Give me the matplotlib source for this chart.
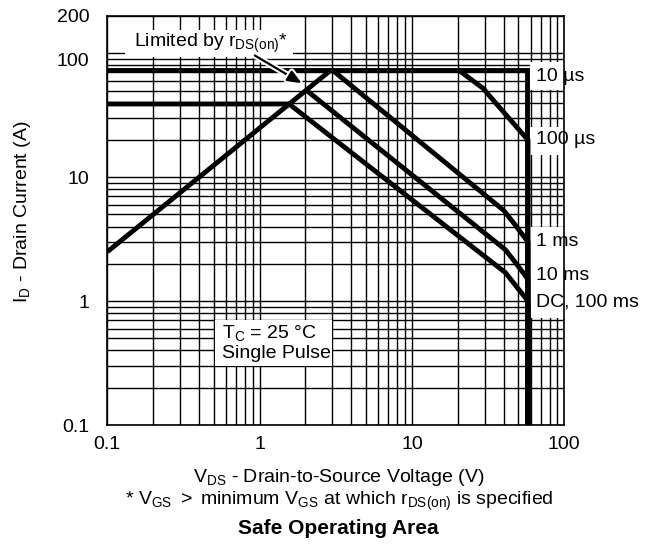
import matplotlib
matplotlib.use('Agg')
import matplotlib.pyplot as plt
import matplotlib.patheffects as pe
from matplotlib.patches import Rectangle
from matplotlib.ticker import NullFormatter, FixedLocator
from matplotlib.transforms import ScaledTranslation

plt.rcParams['font.family'] = ['Liberation Sans', 'DejaVu Sans']
plt.rcParams['mathtext.fontset'] = 'custom'
plt.rcParams['mathtext.rm'] = 'Liberation Sans'
plt.rcParams['mathtext.it'] = 'Liberation Sans:italic'
plt.rcParams['mathtext.bf'] = 'Liberation Sans:bold'

# ---------------- data ----------------
x_ticks = [0.1, 1, 10, 100]
x_tick_labels = ["0.1", "1", "10", "100"]
y_ticks = [0.1, 1, 10, 100, 200]
y_tick_labels = ["0.1", "1", "10", "100", "200"]

# r_DS(on) limit line
rds_v = [0.1, 2.97]
rds_i = [2.5, 74]
# 10 us (current limit + voltage limit)
us10_v = [0.1, 57, 57]
us10_i = [74, 74, 0.1]
# 100 us
us100_v = [20, 29.4, 32.6, 55.3, 57.8, 57.8]
us100_i = [74, 52, 44.7, 21.2, 20, 0.1]
# 1 ms
ms1_v = [2.97, 40, 47, 57.8, 57.8]
ms1_i = [74, 5.4, 4.2, 3.0, 0.1]
# 10 ms
ms10_v = [2.04, 41, 47, 57.8, 57.8]
ms10_i = [50, 2.6, 2.1, 1.5, 0.1]
# DC, 100 ms
dc_v = [0.1, 1.56, 41, 57.8, 57.8]
dc_i = [39, 39, 1.7, 1.0, 0.1]

curve_labels = ["10 µs", "100 µs", "1 ms", "10 ms", "DC, 100 ms"]
curve_label_i = [65, 20, 3.02, 1.6, 0.99]

FS = 14

# ---------------- figure ----------------
W, H = 647, 545
fig = plt.figure(figsize=(W / 100, H / 100), dpi=100)
L, R, T, B = 107.3, 564.3, 16, 425
ax = fig.add_axes([L / W, 1 - B / H, (R - L) / W, (B - T) / H])
ax.set_xscale('log')
ax.set_yscale('log')
ax.set_xlim(0.1, 100)
ax.set_ylim(0.1, 200)

ax.xaxis.set_major_locator(FixedLocator(x_ticks))
ax.set_xticklabels(x_tick_labels)
ax.yaxis.set_major_locator(FixedLocator(y_ticks))
ax.set_yticklabels(y_tick_labels)
minors = [k * 10.0 ** e for e in (-1, 0, 1) for k in range(2, 10)]
ax.xaxis.set_minor_locator(FixedLocator(minors))
ax.yaxis.set_minor_locator(FixedLocator(minors))
ax.xaxis.set_minor_formatter(NullFormatter())
ax.yaxis.set_minor_formatter(NullFormatter())
ax.grid(which='both', color='black', lw=1.0)
ax.tick_params(which='both', length=0, labelsize=FS)
ax.tick_params(axis='y', pad=13)
ax.tick_params(axis='x', pad=8)
for s in ax.spines.values():
    s.set_linewidth(1.2)
# the "100" label sits slightly lower in the original
for lab in ax.get_yticklabels():
    if lab.get_text() == "100":
        lab.set_transform(lab.get_transform() + ScaledTranslation(0, -6 / 100, fig.dpi_scale_trans))

lw = 3.5
kw = dict(color='black', lw=lw, solid_joinstyle='miter', solid_capstyle='butt', zorder=3)
for v, i in [(rds_v, rds_i), (us10_v, us10_i), (us100_v, us100_i),
             (ms1_v, ms1_i), (ms10_v, ms10_i), (dc_v, dc_i)]:
    ax.plot(v, i, **kw)

# white boxes hiding the grid
def axfrac_x(px):
    return (px - L) / (R - L)

def axfrac_y(py):
    return (B - py) / (B - T)

def white_box(x0, y0, x1, y1):
    ax.add_patch(Rectangle((axfrac_x(x0), axfrac_y(y1)), axfrac_x(x1) - axfrac_x(x0),
                           axfrac_y(y0) - axfrac_y(y1), transform=ax.transAxes,
                           facecolor='white', edgecolor='none', zorder=2, clip_on=False))

white_box(125, 30, 293, 57)
white_box(215, 320, 332, 366)
white_box(530, 62, 566, 90)
white_box(530, 127, 566, 155)
white_box(530, 227, 566, 318)

# curve labels on the right
for lab, yi in zip(curve_labels, curve_label_i):
    ax.text(65, yi, lab, ha='left', va='center', fontsize=FS, zorder=4, clip_on=False)

# limited by rds(on)
ax.text(axfrac_x(211), axfrac_y(43), r'Limited by r$_{\mathrm{DS(on)}}$*',
        transform=ax.transAxes, ha='center', va='center', fontsize=FS, zorder=4)
ann = ax.annotate('', xy=(1.89, 57.3), xytext=(0.93, 96),
                  arrowprops=dict(arrowstyle='-|>,head_length=0.6,head_width=0.25', color='black',
                                  lw=1.6, shrinkA=0, shrinkB=0, mutation_scale=14),
                  zorder=5, annotation_clip=False)
ann.arrow_patch.set_path_effects([pe.Stroke(linewidth=4.5, foreground='white'), pe.Normal()])

# Tc box
ax.text(axfrac_x(222), axfrac_y(333), r'T$_{\mathrm{C}}$ = 25 °C', transform=ax.transAxes,
        ha='left', va='center', fontsize=FS, zorder=4)
ax.text(axfrac_x(222), axfrac_y(354), 'Single Pulse', transform=ax.transAxes,
        ha='left', va='center', fontsize=FS, zorder=4)

# axis labels
ax.set_ylabel(r'I$_{\mathrm{D}}$ - Drain Current (A)', fontsize=FS)
ax.yaxis.set_label_coords((33 - L) / (R - L), axfrac_y(212))

cx = (L + R) / 2 / W + 3 / W
fig.text(cx, 1 - 478 / H, r'V$_{\mathrm{DS}}$ - Drain-to-Source Voltage (V)',
         ha='center', va='center', fontsize=FS)
fig.text(cx, 1 - 501 / H,
         r'* V$_{\mathrm{GS}}$ $>$ minimum V$_{\mathrm{GS}}$ at which r$_{\mathrm{DS(on)}}$ is specified',
         ha='center', va='center', fontsize=FS)
fig.text(cx, 1 - 529 / H, 'Safe Operating Area', ha='center', va='center',
         fontsize=15, fontweight='bold')

fig.savefig('out.png', dpi=100)
